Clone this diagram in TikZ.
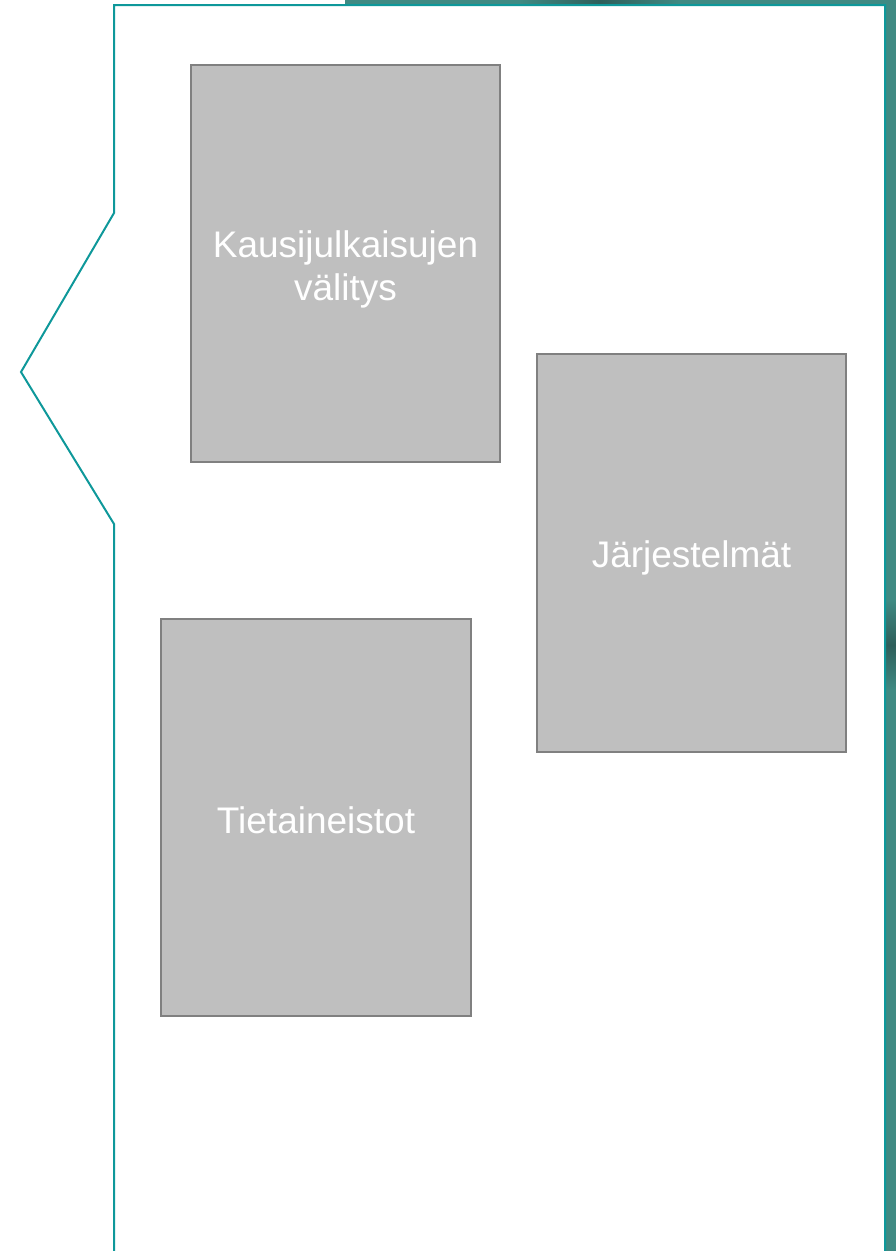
\documentclass[tikz,border=0pt]{standalone}
\usepackage{fontspec}
\setmainfont{Liberation Sans}
\definecolor{bgteal}{HTML}{3F8A83}
\definecolor{bgdark}{HTML}{2E5E5A}
\definecolor{edgeteal}{HTML}{0E989A}
\definecolor{boxfill}{HTML}{BFBFBF}
\definecolor{boxline}{HTML}{808080}
\begin{document}
\begin{tikzpicture}[x=1pt,y=-1pt,
  card/.style={draw=boxline, line width=2pt, fill=boxfill, inner sep=0pt},
  cardtext/.style={text=white, font=\fontsize{37}{43}\selectfont, align=center, inner sep=0pt},
  outline/.style={draw=edgeteal, line width=2pt, line join=miter}]
\useasboundingbox (0,0) rectangle (896,1251);
% background teal strips
\fill[bgteal] (345,0) rectangle (896,6);
\fill[bgteal] (884,0) rectangle (896,1251);
\shade[left color=bgteal, right color=bgteal, middle color=bgdark] (520,0) rectangle (680,6);
\shade[top color=bgteal, bottom color=bgteal, middle color=bgdark] (886,600) rectangle (896,690);
% white panel with notch
\filldraw[outline, fill=white] (114,1255) -- (114,524) -- (21,372) -- (114,213) -- (114,5) -- (885,5) -- (885,1255);
% cards
\node[card, minimum width=309pt, minimum height=397pt] (kausi) at (345.5,263.5) {};
\node[card, minimum width=309pt, minimum height=398pt] (jarj) at (691.5,553) {};
\node[card, minimum width=310pt, minimum height=397pt] (tieto) at (316,817.5) {};
\node[cardtext] (kausit) at ([yshift=-6pt]kausi.center) {Kausijulkaisujen\\välitys};
\node[cardtext] (jarjt) at ([yshift=-5pt]jarj.center) {Järjestelmät};
\node[cardtext] (tietot) at ([yshift=-3pt]tieto.center) {Tietaineistot};
\end{tikzpicture}
\end{document}
